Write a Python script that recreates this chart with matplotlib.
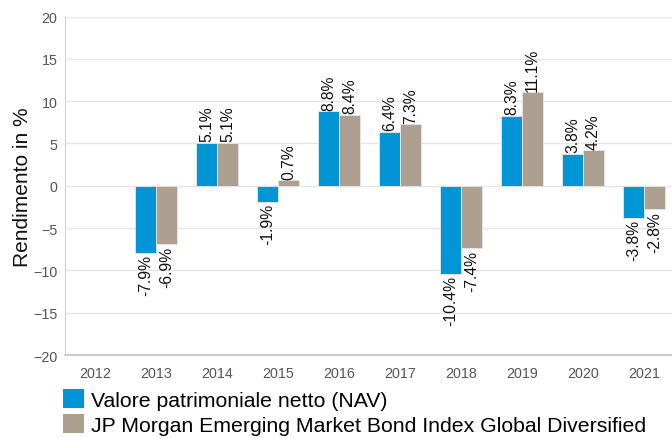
import numpy as np
import matplotlib
matplotlib.use("Agg")
import matplotlib.pyplot as plt
from matplotlib.patches import Patch

# ----------------------
# DATA
# ----------------------
years = ["2012", "2013", "2014", "2015", "2016", "2017", "2018", "2019", "2020", "2021"]
nav = [np.nan, -7.9, 5.1, -1.9, 8.8, 6.4, -10.4, 8.3, 3.8, -3.8]
bench = [np.nan, -6.9, 5.1, 0.7, 8.4, 7.3, -7.4, 11.1, 4.2, -2.8]
yticks = [-20, -15, -10, -5, 0, 5, 10, 15, 20]
series_names = ["Valore patrimoniale netto (NAV)",
                "JP Morgan Emerging Market Bond Index Global Diversified"]
colors = ["#0096d6", "#ada091"]

plt.rcParams["font.family"] = ["Liberation Sans", "DejaVu Sans"]

fig = plt.figure(figsize=(6.72, 4.39), dpi=100)
ax = fig.add_axes([0.096, 0.189, 0.908, 0.771])

x = np.arange(len(years))
w = 0.34
for vals, off, col in [(nav, -w / 2, colors[0]), (bench, w / 2, colors[1])]:
    ax.bar(x + off, vals, width=w, color=col, edgecolor="#e8e8e8",
           linewidth=0.6, zorder=3)
    for xi, v in zip(x + off, vals):
        if np.isnan(v):
            continue
        ax.text(xi, v + (0.15 if v >= 0 else -0.15), f"{v:.1f}%",
                rotation=90, ha="center", va="bottom" if v >= 0 else "top",
                fontsize=11.3, color="#111111", zorder=4)

ax.set_xlim(-0.5, len(years) - 0.5)
ax.set_ylim(-20, 20)
ax.set_yticks(yticks)
ax.set_xticks(x)
ax.set_xticklabels(years)
ax.tick_params(axis="both", length=0, labelsize=10.3, colors="#555555")
ax.tick_params(axis="x", pad=8)
ax.tick_params(axis="y", pad=5)
ax.grid(axis="y", color="#e6e6e6", linewidth=1, zorder=0)
for s in ["top", "right"]:
    ax.spines[s].set_visible(False)
ax.spines["left"].set_color("#d0d0d0")
ax.spines["bottom"].set_color("#cccccc")
ax.spines["bottom"].set_linewidth(1.5)
ax.set_ylabel("Rendimento in %", fontsize=15, color="#111111", labelpad=1)

handles = [Patch(facecolor=c, edgecolor="none") for c in colors]
fig.legend(handles, series_names, loc="upper left",
           bbox_to_anchor=(63 / 672, 1 - 390 / 439), frameon=False,
           fontsize=15.3, handlelength=0.98, handleheight=0.98,
           handletextpad=0.33, labelspacing=0.2, borderpad=0,
           borderaxespad=0)

fig.savefig("out.png", dpi=100)
